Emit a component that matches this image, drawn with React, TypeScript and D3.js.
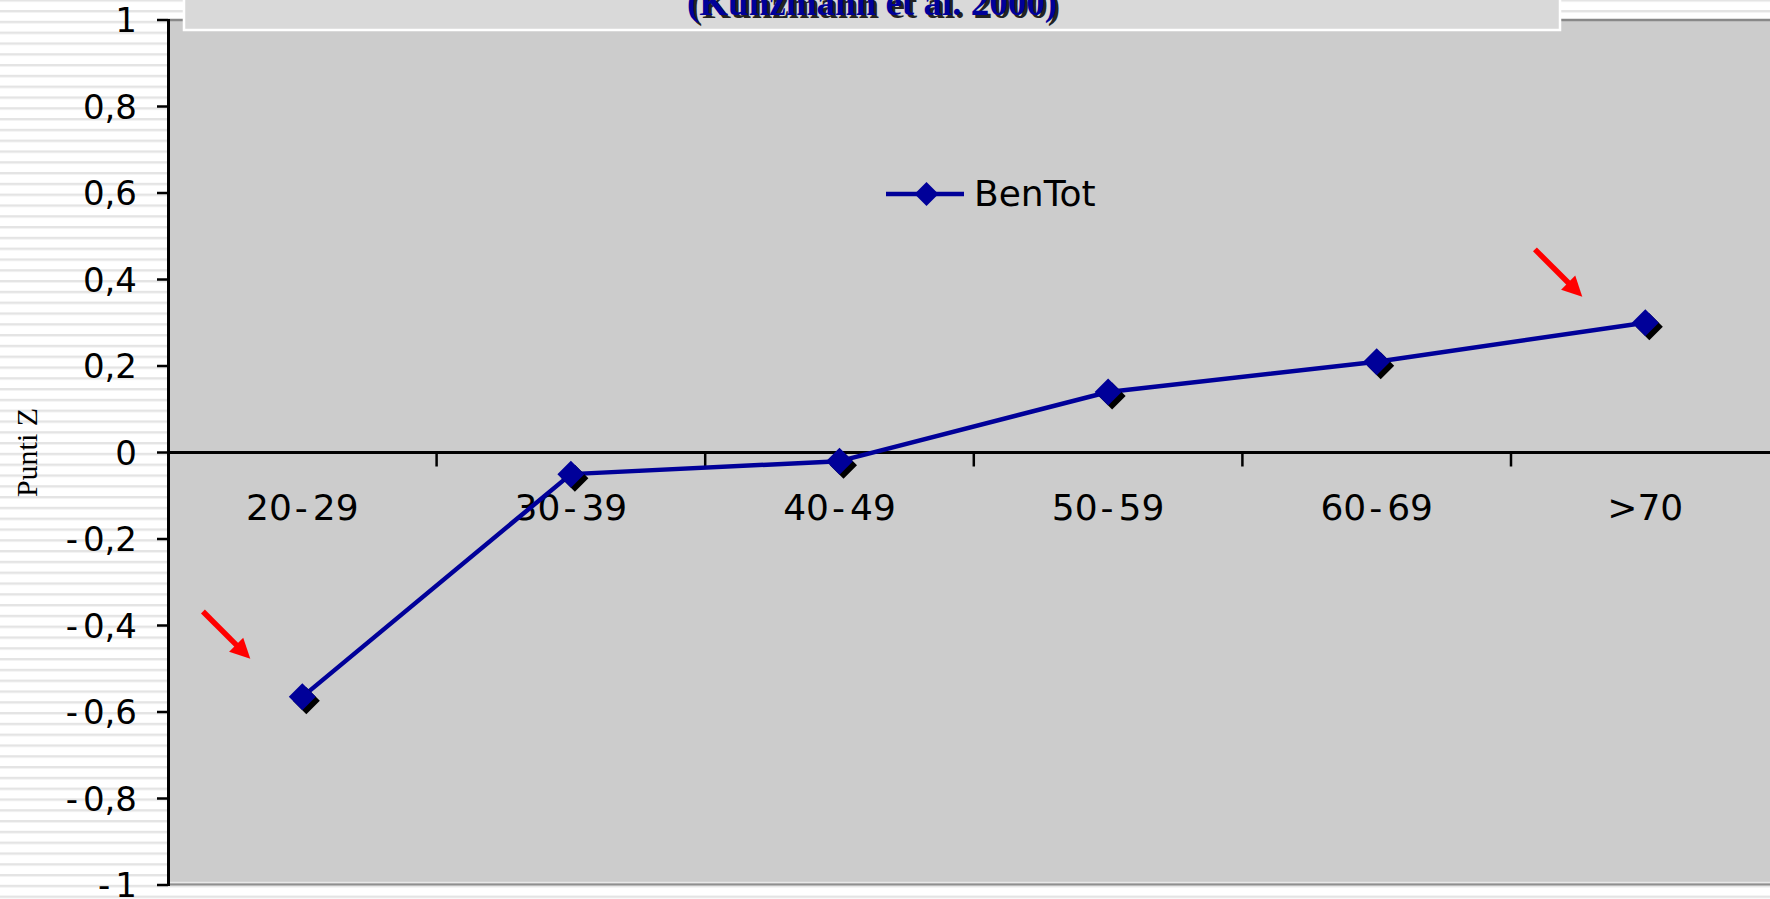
import React from "react";
import * as d3 from "d3";

const categories = ["20-29", "30-39", "40-49", "50-59", "60-69", ">70"];
const benTot = [-0.565, -0.05, -0.02, 0.14, 0.21, 0.3];
const yTicks = [1, 0.8, 0.6, 0.4, 0.2, 0, -0.2, -0.4, -0.6, -0.8, -1];
const yTickLabels = ["1", "0,8", "0,6", "0,4", "0,2", "0", "-0,2", "-0,4", "-0,6", "-0,8", "-1"];
const seriesName = "BenTot";
const yTitle = "Punti Z";
const titleLine = "(Kunzmann et al. 2000)";
// red arrows pointing at the first and last points (offsets in px from the point)
const arrowTargets = [
  { category: "20-29", dx: -52, dy: -38 },
  { category: ">70", dx: -63, dy: -26 },
];

const W = 1770;
const H = 899;
const plotLeft = 168;
const bandW = 268.6;
const plotTop = 20;
const plotBottom = 885;
const navy = "#000099";
const sans = "'DejaVu Sans', Verdana, sans-serif";
const serif = "'Liberation Serif', 'Times New Roman', serif";

// render a label with a small gap after hyphens, as in the reference
function spaced(label: string) {
  const parts = label.split("-");
  if (parts.length === 1) return label;
  const out: React.ReactNode[] = [];
  parts.forEach((p, i) => {
    if (i > 0) {
      out.push(
        <tspan key={"h" + i} dx={label.startsWith("-") ? 0 : 3}>
          -
        </tspan>
      );
      out.push(
        <tspan key={"p" + i} dx={5}>
          {p}
        </tspan>
      );
    } else if (p) {
      out.push(<tspan key={"p" + i}>{p}</tspan>);
    }
  });
  return out;
}

export default function App() {
  const x = d3
    .scaleBand<string>()
    .domain(categories)
    .range([plotLeft, plotLeft + bandW * categories.length])
    .paddingInner(0)
    .paddingOuter(0);
  const y = d3.scaleLinear().domain([-1, 1]).range([plotBottom, plotTop]);
  const cx = (c: string) => (x(c) as number) + x.bandwidth() / 2;
  const pts = categories.map((c, i) => [cx(c), y(benTot[i])] as [number, number]);
  const line = d3.line<[number, number]>().x((d) => d[0]).y((d) => d[1]);
  const diamond = (px: number, py: number, h: number) =>
    `M${px},${py - h}L${px + h},${py}L${px},${py + h}L${px - h},${py}Z`;
  const y0 = y(0);
  const plotRight = plotLeft + bandW * categories.length;

  const arrow = (tx: number, ty: number, key: number) => {
    const len = 67;
    const ang = Math.PI / 4;
    const ux = Math.cos(ang);
    const uy = Math.sin(ang);
    const sx = tx - ux * len;
    const sy = ty - uy * len;
    const headL = 20;
    const headW = 10;
    const bx = tx - ux * headL;
    const by = ty - uy * headL;
    const nx = -uy;
    const ny = ux;
    return (
      <g key={key}>
        <line x1={sx} y1={sy} x2={bx + ux * 2} y2={by + uy * 2} stroke="#ff0000" strokeWidth={5.5} />
        <path
          d={`M${tx},${ty}L${bx + nx * headW},${by + ny * headW}L${bx - nx * headW},${by - ny * headW}Z`}
          fill="#ff0000"
        />
      </g>
    );
  };

  return (
    <svg
      width={W}
      height={H}
      style={{ position: "absolute", left: 0, top: 0, display: "block" }}
      xmlns="http://www.w3.org/2000/svg"
    >
      <defs>
        <pattern id="stripes" width={20} height={10.8} patternUnits="userSpaceOnUse" y={-0.8}>
          <rect width={20} height={10.8} fill="#ffffff" />
          <rect y={0} width={20} height={2.4} fill="#e4e4e4" />
        </pattern>
        <clipPath id="plotClip">
          <rect x={plotLeft} y={plotTop} width={plotRight - plotLeft} height={plotBottom - plotTop} />
        </clipPath>
      </defs>
      <rect x={0} y={0} width={W} height={H} fill="url(#stripes)" />

      {/* plot area */}
      <rect x={plotLeft} y={plotTop} width={plotRight - plotLeft} height={plotBottom - plotTop} fill="#cccccc" />
      <line x1={plotLeft} x2={plotRight} y1={plotTop} y2={plotTop} stroke="#888888" strokeWidth={2.6} />
      <line x1={plotLeft} x2={plotRight} y1={plotBottom - 2.5} y2={plotBottom - 2.5} stroke="#e8e8e8" strokeWidth={1.5} />
      <line x1={plotLeft} x2={plotRight} y1={plotBottom - 0.5} y2={plotBottom - 0.5} stroke="#8f8f8f" strokeWidth={2.2} />

      {/* title box */}
      <rect x={184} y={-10} width={1376} height={40} fill="#d9d9d9" stroke="#ffffff" strokeWidth={2.5} />
      <text x={875} y={17.5} textAnchor="middle" fontFamily={serif} fontWeight="bold" fontSize={37} fill="#222222">
        {titleLine}
      </text>
      <text x={872} y={15} textAnchor="middle" fontFamily={serif} fontWeight="bold" fontSize={37} fill={navy}>
        {titleLine}
      </text>

      {/* zero line with category ticks */}
      <line x1={plotLeft} x2={plotRight} y1={y0} y2={y0} stroke="#000" strokeWidth={3} />
      {categories.slice(1).map((c) => (
        <line key={c} x1={x(c) as number} x2={x(c) as number} y1={y0} y2={y0 + 14} stroke="#000" strokeWidth={2.5} />
      ))}
      {categories.map((c) => (
        <text key={c} x={cx(c)} y={520} textAnchor="middle" fontFamily={sans} fontSize={36} fill="#000">
          {spaced(c)}
        </text>
      ))}

      {/* y axis */}
      <line x1={plotLeft + 0.5} x2={plotLeft + 0.5} y1={plotTop - 1} y2={plotBottom + 1} stroke="#000" strokeWidth={3} />
      {yTicks.map((t, i) => (
        <g key={t}>
          <line x1={157} x2={plotLeft} y1={y(t)} y2={y(t)} stroke="#000" strokeWidth={2.5} />
          <text x={137} y={y(t) + 12} textAnchor="end" fontFamily={sans} fontSize={34} fill="#000">
            {spaced(yTickLabels[i])}
          </text>
        </g>
      ))}
      <text
        transform={`translate(37, ${(plotTop + plotBottom) / 2}) rotate(-90)`}
        textAnchor="middle"
        fontFamily={serif}
        fontSize={30}
        fill="#000"
      >
        {yTitle}
      </text>

      {/* series */}
      <g clipPath="url(#plotClip)">
        <path d={line(pts) || ""} fill="none" stroke={navy} strokeWidth={4.5} strokeLinejoin="round" />
        {pts.map((p, i) => (
          <path key={"s" + i} d={diamond(p[0] + 4, p[1] + 4, 13.5)} fill="#000000" />
        ))}
        {pts.map((p, i) => (
          <path key={"m" + i} d={diamond(p[0], p[1], 13.5)} fill={navy} />
        ))}
      </g>

      {/* legend */}
      <line x1={886} x2={964} y1={194} y2={194} stroke={navy} strokeWidth={4.5} />
      <path d={diamond(926.5, 194, 12)} fill={navy} />
      <text x={974} y={206} fontFamily={sans} fontSize={36} fill="#000">
        {seriesName}
      </text>

      {/* annotation arrows */}
      {arrowTargets.map((a, i) => {
        const idx = categories.indexOf(a.category);
        return arrow(cx(a.category) + a.dx, y(benTot[idx]) + a.dy, i);
      })}
    </svg>
  );
}
